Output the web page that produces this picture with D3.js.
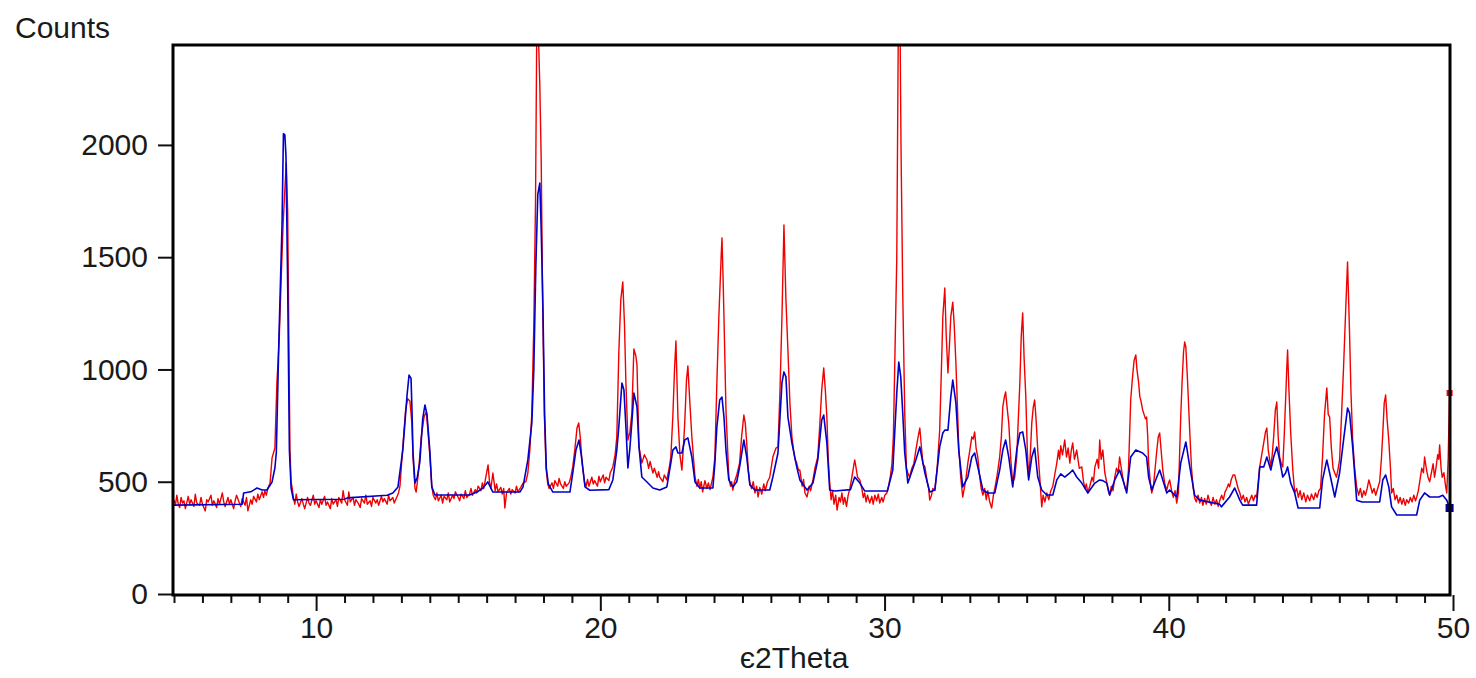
<!DOCTYPE html>
<html lang="en">
<head>
<meta charset="UTF-8"/>
<title>Counts vs 2Theta</title>
<script src="https://d3js.org/d3.v7.min.js"></script>
<style>
    body { margin: 0; background: #fff; }
    svg text { font-family: "Liberation Sans", Arial, sans-serif; fill: #1a1a1a; }
</style>
</head>
<body>
<script>
    // pattern 1 (red) - [2theta, counts]
    var redScan = [
        [5.0,420],[5.05,395],[5.1,440],[5.15,400],[5.2,385],[5.25,430],[5.3,405],[5.35,415],[5.4,380],[5.5,435],
        [5.55,400],[5.6,420],[5.7,390],[5.75,445],[5.8,405],[5.9,395],[5.95,430],[6.0,400],[6.1,370],[6.15,420],
        [6.2,410],[6.3,440],[6.35,395],[6.4,415],[6.5,385],[6.55,425],[6.6,400],[6.7,450],[6.75,410],[6.8,390],
        [6.9,430],[6.95,400],[7.0,420],[7.1,380],[7.15,415],[7.2,440],[7.3,405],[7.35,390],[7.4,425],[7.5,395],
        [7.55,430],[7.6,370],[7.7,420],[7.75,400],[7.8,435],[7.9,410],[7.95,445],[8.0,420],[8.1,455],[8.15,430],
        [8.2,460],[8.25,440],[8.3,470],[8.38,494],[8.45,606],[8.55,650],[8.62,940],[8.7,1130],[8.77,1400],[8.84,1650],
        [8.9,1800],[8.95,1920],[9.0,1700],[9.04,1150],[9.08,640],[9.12,500],[9.16,470],
        [9.2,430],[9.25,400],[9.3,445],[9.35,410],[9.4,390],[9.5,425],[9.55,400],[9.6,380],[9.7,430],[9.75,405],
        [9.8,395],[9.9,440],[9.95,400],[10.0,415],[10.1,385],[10.15,420],[10.2,400],[10.3,435],[10.35,395],[10.4,410],
        [10.5,380],[10.55,425],[10.6,400],[10.7,420],[10.75,390],[10.8,430],[10.9,405],[10.95,460],[11.0,420],[11.1,395],
        [11.15,455],[11.2,410],[11.3,430],[11.35,395],[11.4,420],[11.5,400],[11.55,385],[11.6,425],[11.7,405],[11.75,440],
        [11.8,400],[11.9,415],[11.95,390],[12.0,430],[12.1,405],[12.15,420],[12.2,395],[12.3,435],[12.35,410],[12.4,425],
        [12.5,400],[12.55,440],[12.6,415],[12.7,430],[12.75,405],[12.8,420],[12.9,450],[12.95,480],[13.05,655],[13.15,820],
        [13.22,870],[13.3,860],[13.37,760],[13.41,606],[13.48,470],[13.52,454],[13.6,540],[13.7,700],[13.8,790],[13.88,811],
        [13.95,700],[14.01,600],[14.07,480],[14.12,440],
        [14.2,420],[14.25,450],[14.3,415],[14.4,440],[14.45,405],[14.5,435],[14.6,420],[14.65,450],[14.7,410],[14.8,440],
        [14.85,425],[14.9,455],[15.0,430],[15.05,415],[15.1,445],[15.2,425],[15.25,460],[15.3,430],[15.4,445],[15.45,470],
        [15.5,440],[15.6,465],[15.65,450],[15.7,480],[15.8,460],[15.85,495],[15.9,470],[16.0,540],[16.05,575],[16.1,500],
        [16.15,470],[16.22,539],[16.3,460],[16.35,490],[16.4,455],[16.5,475],[16.55,445],[16.6,470],[16.64,383],[16.7,450],
        [16.8,470],[16.85,445],[16.9,465],[17.0,450],[17.05,480],[17.1,455],[17.2,475],[17.28,494],[17.38,500],[17.45,539],
        [17.52,641],[17.59,806],[17.66,1200],[17.72,1750],[17.76,2450],[17.83,2450],[17.87,2270],[17.92,1930],[17.97,1300],[18.03,800],
        [18.09,560],[18.15,490],[18.2,470],
        [18.3,495],[18.35,470],[18.4,505],[18.5,480],[18.55,515],[18.6,490],[18.7,470],[18.75,500],[18.8,480],[18.9,495],
        [18.96,520],[19.03,566],[19.1,640],[19.18,740],[19.24,762],[19.3,690],[19.36,580],[19.44,500],[19.5,480],
        [19.55,510],[19.6,480],[19.7,520],[19.75,490],[19.8,505],[19.9,480],[19.95,525],[20.0,500],[20.1,530],[20.15,495],
        [20.2,520],[20.3,505],[20.35,540],[20.44,566],[20.52,620],[20.58,700],[20.65,1073],[20.72,1310],[20.79,1390],[20.85,1200],
        [20.9,940],[20.97,686],[21.04,720],[21.11,806],[21.18,1091],[21.25,1060],[21.29,1020],[21.36,655],[21.46,583],[21.55,620],
        [21.64,597],[21.7,560],[21.75,590],[21.85,539],[21.9,560],[22.0,520],[22.05,545],[22.09,521],[22.2,500],[22.25,530],
        [22.34,508],[22.42,560],[22.48,610],[22.55,788],[22.61,1000],[22.66,1127],[22.73,788],[22.8,620],[22.87,552],[22.92,650],
        [22.97,762],[23.03,950],[23.08,1016],[23.15,850],[23.22,700],[23.28,600],[23.33,521],[23.4,480],[23.45,510],[23.5,470],
        [23.55,500],[23.6,455],[23.68,505],[23.75,470],[23.8,495],[23.86,465],[23.96,520],[24.03,610],[24.1,940],[24.17,1234],
        [24.25,1500],[24.28,1586],[24.32,1400],[24.35,1234],[24.42,820],[24.48,640],[24.52,521],[24.58,480],[24.62,500],[24.66,463],
        [24.72,500],[24.8,530],[24.9,583],[24.97,700],[25.05,797],[25.1,760],[25.15,673],[25.2,560],[25.26,494],[25.32,470],
        [25.38,500],[25.44,450],[25.5,480],[25.55,432],[25.61,475],[25.68,445],[25.75,490],[25.8,460],[25.88,500],[25.96,520],
        [26.07,610],[26.18,650],[26.25,655],[26.32,900],[26.39,1234],[26.46,1644],[26.53,1310],[26.6,1087],[26.67,850],[26.74,700],
        [26.8,640],[26.85,600],[26.91,583],[26.97,552],[27.02,552],[27.1,480],[27.15,510],[27.2,450],[27.27,432],[27.35,480],
        [27.4,460],[27.48,508],[27.55,560],[27.65,610],[27.72,750],[27.79,909],[27.86,1007],[27.92,900],[27.97,788],[28.02,600],
        [28.07,494],[28.12,420],[28.17,460],[28.22,400],[28.28,440],[28.33,374],[28.4,430],[28.45,410],[28.5,450],[28.55,400],
        [28.6,430],[28.66,390],[28.72,440],[28.78,470],[28.85,520],[28.9,560],[28.95,597],[29.0,560],[29.05,520],[29.13,508],
        [29.2,470],[29.25,430],[29.3,450],[29.35,410],[29.4,440],[29.48,405],[29.55,435],[29.6,400],[29.66,440],[29.72,415],
        [29.78,445],[29.83,405],[29.9,430],[29.95,410],[30.01,440],[30.08,450],[30.14,480],[30.2,520],[30.26,580],[30.31,700],
        [30.36,1029],[30.43,1497],[30.48,2450],[30.55,2450],[30.58,1978],[30.64,1341],[30.71,806],[30.77,560],[30.82,539],[30.88,520],
        [30.96,560],[31.03,580],[31.1,640],[31.18,700],[31.24,739],[31.3,650],[31.35,580],[31.42,566],[31.5,500],[31.55,470],
        [31.59,418],[31.65,440],[31.7,470],[31.77,463],[31.85,560],[31.94,730],[32.0,1000],[32.05,1234],[32.12,1363],[32.17,1150],
        [32.23,984],[32.28,1100],[32.33,1234],[32.4,1300],[32.45,1200],[32.51,1029],[32.56,850],[32.61,655],[32.68,520],[32.75,432],
        [32.82,480],[32.87,520],[32.93,583],[33.0,640],[33.07,700],[33.12,690],[33.17,722],[33.22,650],[33.28,610],[33.35,520],
        [33.4,470],[33.46,441],[33.52,470],[33.58,420],[33.63,460],[33.7,410],[33.77,383],[33.83,440],[33.88,470],[33.95,520],
        [34.05,610],[34.11,700],[34.16,833],[34.22,880],[34.26,900],[34.32,820],[34.37,762],[34.44,600],[34.51,494],[34.58,520],
        [34.65,610],[34.7,760],[34.76,940],[34.81,1150],[34.86,1252],[34.91,1050],[34.97,877],[35.02,650],[35.07,521],[35.12,600],
        [35.18,762],[35.23,830],[35.28,864],[35.33,780],[35.39,641],[35.46,520],[35.53,388],[35.58,440],[35.64,410],[35.71,450],
        [35.78,420],[35.85,460],[35.92,480],[36.0,540],[36.06,583],[36.12,640],[36.16,600],[36.2,660],[36.26,620],[36.34,686],
        [36.4,610],[36.46,650],[36.52,583],[36.57,640],[36.62,673],[36.68,600],[36.76,641],[36.85,560],[36.94,566],[37.0,500],
        [37.05,470],[37.1,490],[37.15,450],[37.22,480],[37.3,520],[37.35,500],[37.4,566],[37.48,600],[37.53,560],[37.57,686],
        [37.62,600],[37.68,641],[37.75,540],[37.82,494],[37.87,460],[37.92,441],[37.98,480],[38.04,460],[38.1,521],[38.16,560],
        [38.22,540],[38.27,610],[38.33,560],[38.38,520],[38.42,494],[38.47,470],[38.52,463],[38.58,550],[38.62,700],[38.66,864],
        [38.72,960],[38.78,1040],[38.84,1065],[38.88,1000],[38.94,940],[38.98,880],[39.02,860],[39.08,820],[39.13,800],[39.18,780],
        [39.22,788],[39.26,700],[39.29,583],[39.35,500],[39.4,450],[39.46,480],[39.52,560],[39.58,641],[39.63,700],[39.68,717],
        [39.73,640],[39.79,552],[39.86,490],[39.93,463],[39.98,490],[40.03,508],[40.1,460],[40.16,430],[40.22,460],[40.28,405],
        [40.34,450],[40.42,788],[40.47,950],[40.52,1080],[40.56,1122],[40.6,1100],[40.66,950],[40.74,717],[40.8,560],[40.86,470],
        [40.91,428],[40.97,410],[41.03,440],[41.09,405],[41.15,430],[41.2,395],[41.26,425],[41.32,400],[41.38,440],[41.44,410],
        [41.5,395],[41.56,430],[41.62,400],[41.68,420],[41.74,390],[41.79,415],[41.86,440],[41.92,420],[41.98,455],[42.04,470],
        [42.1,490],[42.14,477],[42.2,510],[42.26,530],[42.32,530],[42.38,500],[42.44,470],[42.5,450],[42.56,420],[42.62,440],
        [42.68,410],[42.74,430],[42.8,400],[42.85,418],[42.92,440],[42.98,415],[43.04,440],[43.09,430],[43.15,500],[43.2,566],
        [43.27,620],[43.34,673],[43.4,720],[43.45,739],[43.5,640],[43.55,600],[43.59,566],[43.64,620],[43.69,700],[43.75,820],
        [43.8,855],[43.85,700],[43.9,610],[43.96,580],[44.01,566],[44.06,700],[44.11,864],[44.15,1000],[44.18,1087],[44.23,900],
        [44.29,717],[44.36,560],[44.43,450],[44.5,470],[44.56,430],[44.62,460],[44.68,420],[44.75,450],[44.82,410],[44.88,440],
        [44.96,415],[45.02,445],[45.1,420],[45.16,450],[45.22,430],[45.28,460],[45.34,470],[45.41,610],[45.48,800],[45.56,918],
        [45.61,800],[45.66,788],[45.72,650],[45.78,560],[45.84,539],[45.9,520],[45.96,560],[46.01,597],[46.08,800],[46.15,1011],
        [46.22,1250],[46.29,1479],[46.33,1300],[46.36,1163],[46.41,900],[46.47,686],[46.54,560],[46.61,477],[46.68,440],[46.74,470],
        [46.8,430],[46.86,460],[46.92,440],[46.98,470],[47.04,508],[47.1,480],[47.16,450],[47.22,470],[47.28,440],[47.35,470],
        [47.42,500],[47.48,600],[47.53,717],[47.58,850],[47.63,886],[47.68,780],[47.74,686],[47.8,560],[47.84,450],[47.9,470],
        [47.96,420],[48.02,440],[48.08,405],[48.14,430],[48.2,400],[48.26,425],[48.32,395],[48.37,420],[48.44,405],[48.5,430],
        [48.56,410],[48.62,440],[48.68,415],[48.72,430],[48.78,460],[48.83,500],[48.9,560],[48.96,540],[49.0,610],[49.06,560],
        [49.12,520],[49.18,500],[49.24,540],[49.3,580],[49.35,520],[49.4,560],[49.46,620],[49.5,600],[49.53,664],[49.58,560],
        [49.62,520],[49.68,540],[49.74,480],[49.78,450],[49.83,600],[49.88,895]
    ];

    // pattern 2 (blue) - [2theta, counts]
    var blueScan = [
        [5.0,396],[7.4,400],[7.45,450],[7.7,455],[7.92,472],[8.1,463],[8.27,463],[8.45,499],[8.55,561],[8.6,630],
        [8.69,1130],[8.8,1640],[8.85,2050],[8.9,2045],[8.94,1950],[9.0,1370],[9.06,640],[9.12,472],[9.2,420],[11.0,422],
        [11.1,428],[12.5,440],[12.7,450],[12.88,477],[13.05,641],[13.2,886],[13.27,975],[13.34,960],[13.37,833],[13.41,628],
        [13.48,494],[13.56,520],[13.65,588],[13.75,780],[13.83,842],[13.9,800],[14.0,641],[14.07,477],[14.18,441],[15.4,441],
        [15.66,454],[15.87,472],[16.04,499],[16.22,454],[17.17,454],[17.28,477],[17.45,597],[17.59,762],[17.66,1000],[17.73,1457],
        [17.8,1780],[17.87,1830],[17.92,1621],[17.98,1278],[18.04,800],[18.1,560],[18.17,490],[18.33,454],[18.93,454],[19.03,539],
        [19.14,640],[19.25,686],[19.35,600],[19.46,477],[19.63,462],[20.3,465],[20.44,508],[20.58,641],[20.65,744],[20.76,940],
        [20.83,909],[20.9,744],[20.97,561],[21.04,650],[21.11,766],[21.18,895],[21.29,833],[21.36,655],[21.46,521],[21.64,499],
        [21.85,472],[22.09,463],[22.34,477],[22.48,583],[22.55,641],[22.66,655],[22.73,628],[22.87,628],[22.97,686],[23.08,695],
        [23.22,610],[23.33,499],[23.5,472],[23.96,472],[24.03,583],[24.1,744],[24.2,864],[24.28,877],[24.35,788],[24.42,641],
        [24.52,508],[24.66,477],[24.8,500],[24.9,566],[25.05,686],[25.15,610],[25.26,486],[25.44,463],[25.96,463],[26.07,521],
        [26.25,628],[26.39,940],[26.46,989],[26.53,967],[26.6,788],[26.74,673],[26.91,566],[27.02,508],[27.27,463],[27.48,494],
        [27.65,597],[27.79,775],[27.86,797],[27.97,673],[28.07,463],[28.25,459],[28.8,465],[28.95,521],[29.13,494],[29.3,459],
        [30.1,459],[30.29,552],[30.43,895],[30.5,1033],[30.57,967],[30.64,806],[30.71,628],[30.82,494],[31.1,597],[31.24,655],
        [31.42,539],[31.59,454],[31.77,463],[31.94,655],[32.05,717],[32.12,730],[32.23,730],[32.33,877],[32.4,953],[32.51,851],
        [32.61,641],[32.75,477],[32.93,521],[33.07,610],[33.17,628],[33.28,566],[33.46,463],[33.63,450],[33.88,450],[34.05,552],
        [34.16,641],[34.26,686],[34.37,610],[34.51,477],[34.65,641],[34.76,717],[34.86,722],[34.97,641],[35.07,508],[35.18,610],
        [35.28,650],[35.39,521],[35.53,463],[35.71,441],[35.92,441],[36.06,508],[36.2,535],[36.34,521],[36.52,539],[36.62,552],
        [36.76,521],[36.94,494],[37.15,450],[37.4,494],[37.57,508],[37.68,505],[37.82,494],[37.92,441],[38.1,508],[38.27,552],
        [38.42,494],[38.52,450],[38.66,610],[38.84,641],[39.08,628],[39.22,610],[39.29,521],[39.4,463],[39.58,521],[39.68,552],
        [39.79,508],[39.93,450],[40.03,463],[40.28,432],[40.42,583],[40.6,677],[40.74,566],[40.91,440],[41.09,418],[41.79,400],
        [41.85,388],[42.14,432],[42.32,472],[42.5,418],[42.6,396],[43.09,396],[43.2,566],[43.34,566],[43.45,610],[43.59,552],
        [43.69,610],[43.8,655],[43.9,597],[44.01,521],[44.11,539],[44.18,566],[44.29,494],[44.43,450],[44.55,383],[45.31,383],
        [45.41,508],[45.56,597],[45.66,539],[45.84,432],[46.01,539],[46.15,686],[46.29,828],[46.36,806],[46.47,655],[46.61,418],
        [46.8,410],[47.42,410],[47.53,508],[47.63,530],[47.74,477],[47.84,388],[48.02,352],[48.72,352],[48.83,418],[49.0,450],
        [49.18,432],[49.5,432],[49.64,440],[49.78,418],[49.88,383]
    ];

    var yTickLabels = [0, 500, 1000, 1500, 2000];
    var xTickLabels = [10, 20, 30, 40, 50];

    var w = 1476;
    var h = 678;
    var plotLeft = 173, plotRight = 1450, plotTop = 45, plotBottom = 595;

    var xScale = d3.scaleLinear()
        .domain([5, 50])
        .range([174, 1453]);

    var yScale = d3.scaleLinear()
        .domain([0, 2445])
        .range([594, plotTop]);

    var svg = d3.select("body")
        .append("svg")
        .attr("width", w)
        .attr("height", h);

    svg.append("rect")
        .attr("width", w)
        .attr("height", h)
        .attr("fill", "white");

    svg.append("clipPath")
        .attr("id", "plot")
        .append("rect")
        .attr("x", plotLeft)
        .attr("y", plotTop)
        .attr("width", plotRight - plotLeft)
        .attr("height", plotBottom - plotTop);

    var line = d3.line()
        .x(function(d) { return xScale(d[0]); })
        .y(function(d) { return yScale(d[1]); });

    var plot = svg.append("g").attr("clip-path", "url(#plot)");

    plot.append("path")
        .datum(redScan)
        .attr("d", line)
        .attr("fill", "none")
        .attr("stroke", "#f00000")
        .attr("stroke-width", 1.4)
        .attr("stroke-linejoin", "round");

    plot.append("path")
        .datum(blueScan)
        .attr("d", line)
        .attr("fill", "none")
        .attr("stroke", "#0000c8")
        .attr("stroke-width", 1.6)
        .attr("stroke-linejoin", "round");

    // end-of-scan markers
    var lastRed = redScan[redScan.length - 1];
    var lastBlue = blueScan[blueScan.length - 1];
    svg.append("rect")
        .attr("x", xScale(lastRed[0]) - 3).attr("y", yScale(lastRed[1]) - 3)
        .attr("width", 6).attr("height", 6).attr("fill", "#f00000");
    svg.append("rect")
        .attr("x", xScale(lastBlue[0]) - 4).attr("y", yScale(lastBlue[1]) - 4)
        .attr("width", 8).attr("height", 8).attr("fill", "#00008c");

    // axes
    var minorTicks = d3.range(5, 50).filter(function(v) { return v % 10 != 0; });

    svg.append("g")
        .attr("transform", "translate(0," + plotBottom + ")")
        .call(d3.axisBottom(xScale).tickValues(minorTicks).tickSize(8).tickFormat(""))
        .call(function(g) { g.select(".domain").remove(); g.selectAll("line").attr("stroke", "#111").attr("stroke-width", 2); });

    svg.append("g")
        .attr("transform", "translate(0," + plotBottom + ")")
        .call(d3.axisBottom(xScale).tickValues(xTickLabels).tickSize(16).tickPadding(6).tickFormat(d3.format("d")))
        .call(function(g) {
            g.select(".domain").remove();
            g.selectAll("line").attr("stroke", "#111").attr("stroke-width", 2);
            g.selectAll("text").style("font-size", "30px").attr("fill", "#1a1a1a");
        });

    svg.append("g")
        .attr("transform", "translate(" + plotLeft + ",0)")
        .call(d3.axisLeft(yScale).tickValues(yTickLabels).tickSize(15).tickPadding(10).tickFormat(d3.format("d")))
        .call(function(g) {
            g.select(".domain").remove();
            g.selectAll("line").attr("stroke", "#111").attr("stroke-width", 2);
            g.selectAll("text").style("font-size", "30px").attr("fill", "#1a1a1a");
        });

    // frame
    svg.append("rect")
        .attr("x", plotLeft)
        .attr("y", plotTop)
        .attr("width", plotRight - plotLeft)
        .attr("height", plotBottom - plotTop)
        .attr("fill", "none")
        .attr("stroke", "#000")
        .attr("stroke-width", 3);

    svg.append("text")
        .attr("x", 15)
        .attr("y", 38)
        .style("font-size", "30px")
        .text("Counts");

    svg.append("text")
        .attr("x", 794)
        .attr("y", 668)
        .attr("text-anchor", "middle")
        .style("font-size", "30px")
        .text("є2Theta");
</script>
</body>
</html>
